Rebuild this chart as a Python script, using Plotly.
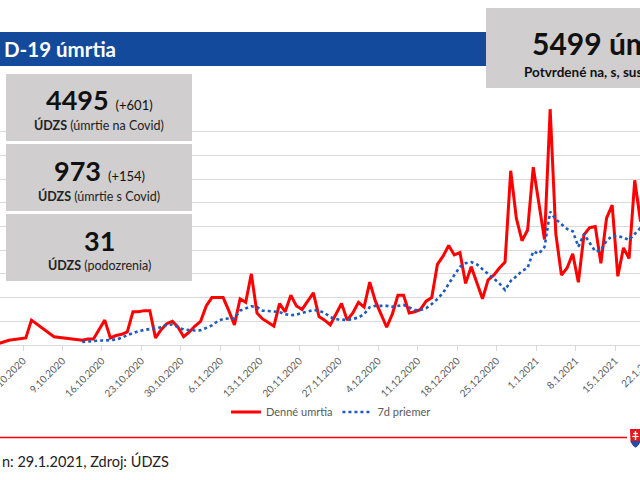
import plotly.graph_objects as go
import pandas as pd

# ---------------- data ----------------
early_dates = ["2020-09-27", "2020-09-29", "2020-10-02", "2020-10-03", "2020-10-07"]
early_deaths = [1, 4, 6, 21, 7]

daily_start = "2020-10-12"
daily_deaths = [4, 5, 5, 13, 21, 6, 8, 9, 11, 28, 28, 29, 29, 6, 13, 18, 20, 15, 7, 11,
                16, 20, 33, 40, 40, 40, 29, 17, 39, 36, 60, 27, 22, 19, 16, 35, 28, 42, 33, 30,
                37, 44, 24, 21, 17, 26, 35, 21, 27, 36, 32, 53, 37, 26, 15, 26, 42, 42, 27, 28,
                30, 37, 40, 68, 75, 84, 76, 78, 52, 66, 53, 39, 55, 59, 65, 70, 147, 107, 88, 97,
                150, 121, 89, 199, 94, 59, 65, 77, 53, 93, 99, 100, 69, 107, 118, 58, 82, 73, 139, 105,
                100]
avg7 = [2.5, 3, 3.4, 3.8, 3.8, 4, 4.6, 6, 8.4, 9.9, 11.8, 12.7, 13.5, 14, 15, 17, 17.3, 15, 13, 12.7,
        12.2, 12.4, 14.3, 16.5, 20, 22, 22.4, 22.4, 29, 31, 32.7, 32, 29, 28.7, 28.3, 27.8, 26, 25, 25.7, 27,
        28.3, 29.5, 29, 27, 23.6, 21.7, 21.5, 21, 22, 23.2, 26, 32, 33, 33.3, 33, 32.3, 33, 33.8, 31.6, 29.5,
        29.5, 31, 34.6, 38.8, 44, 52, 59, 66, 69, 70, 68, 64, 60, 56.5, 52, 46.4, 54, 58, 62.4, 65,
        79, 77, 82.7, 112.5, 106, 102, 98, 96, 83, 93.7, 86, 79, 80, 88, 92, 92, 90.7, 88.6, 93.7, 98.7,
        101]

tick_start = "2020-10-02"
last_tick_label = "22.1.2021"
title_text = "D-19 úmrtia"
total_text = "5499 úmrtí"
total_sub = "Potvrdené na, s, susp. (ÚDZS)"
box_numbers = ["4495", "973", "31"]
box_deltas = ["(+601)", "(+154)", ""]
box_labels = ["(úmrtie na Covid)", "(úmrtie s Covid)", "(podozrenia)"]
footer_text = "n: 29.1.2021, Zdroj: ÚDZS"
series_names = ["Denné umrtia", "7d priemer"]

# ---------------- helpers ----------------
W, H = 640, 480
TOP, BOT = 108, 345
FONT = "Lato"


def px(x):
    return x / W


def py(y):
    return (BOT - y) / (BOT - TOP)


offset = pd.Timedelta(hours=12)
daily_dates = pd.date_range(daily_start, periods=len(daily_deaths), freq="D")
red_x = list(pd.to_datetime(early_dates) + offset) + list(daily_dates + offset)
red_y = early_deaths + daily_deaths
blue_x = list(daily_dates[:len(avg7)] + offset)

fig = go.Figure()
fig.add_trace(go.Scatter(x=red_x, y=red_y, mode="lines", name=series_names[0],
                         line=dict(color="#FF0000", width=3)))
fig.add_trace(go.Scatter(x=blue_x, y=avg7, mode="lines", name=series_names[1],
                         line=dict(color="#1E5BBF", width=2.6, dash="dot")))

t0 = pd.Timestamp(tick_start)
pxday = 592 / 105.0
x_start = t0 - pd.Timedelta(days=23 / pxday)
x_end = t0 + pd.Timedelta(days=(640 - 23) / pxday)

shapes = []
# title band
shapes.append(dict(type="rect", xref="paper", yref="paper", x0=px(0), x1=px(487), y0=py(66), y1=py(32),
                   fillcolor="#134A9C", line=dict(width=0), layer="above"))
# right total box
shapes.append(dict(type="rect", xref="paper", yref="paper", x0=px(486), x1=px(700), y0=py(88), y1=py(8),
                   fillcolor="#D0CECE", line=dict(width=0), layer="above"))
# left boxes
box_tops = [74, 144, 214]
for bt in box_tops:
    shapes.append(dict(type="rect", xref="paper", yref="paper", x0=px(6), x1=px(192), y0=py(bt + 67), y1=py(bt),
                       fillcolor="#D0CECE", line=dict(width=0), layer="above"))
# footer red line
shapes.append(dict(type="line", xref="paper", yref="paper", x0=px(0), x1=px(627), y0=py(437.5), y1=py(437.5),
                   line=dict(color="#FF0000", width=1.5), layer="above"))


def path(points, close=True):
    s = "M " + " L ".join(f"{px(a):.5f},{py(b):.5f}" for a, b in points)
    return s + (" Z" if close else "")


# coat of arms
shapes.append(dict(type="path", xref="paper", yref="paper",
                   path=path([(630, 429), (641, 429), (641, 441), (638, 445.5), (635.5, 447.5), (633, 445.5), (630.5, 442)]),
                   fillcolor="#E6151B", line=dict(width=0), layer="above"))
shapes.append(dict(type="path", xref="paper", yref="paper",
                   path=path([(630.7, 441), (641, 441), (638, 445.5), (635.5, 447.5), (633, 445.5)]),
                   fillcolor="#1F4FA6", line=dict(width=0), layer="above"))
shapes.append(dict(type="line", xref="paper", yref="paper", x0=px(635.5), x1=px(635.5), y0=py(440), y1=py(431),
                   line=dict(color="white", width=1.4), layer="above"))
for yy, half in [(433.5, 2.4), (436.5, 3.2)]:
    shapes.append(dict(type="line", xref="paper", yref="paper", x0=px(635.5 - half), x1=px(635.5 + half),
                       y0=py(yy), y1=py(yy), line=dict(color="white", width=1.2), layer="above"))

ann = []
ann.append(dict(text=f"<b>{title_text}</b>", x=px(2), y=py(49), xanchor="left", yanchor="middle",
                font=dict(family=FONT, size=20.5, color="white")))
ann.append(dict(text=f"<b>{total_text}</b>", x=px(530), y=py(43), xanchor="left", yanchor="middle",
                font=dict(family=FONT, size=30, color="#111111")))
ann.append(dict(text=f"<b>{total_sub}</b>", x=px(522), y=py(72), xanchor="left", yanchor="middle",
                font=dict(family=FONT, size=13.5, color="#111111")))
num_y = [99, 170, 240]
lab_y = [125, 196, 265]
for num, delta, lab, ny, ly in zip(box_numbers, box_deltas, box_labels, num_y, lab_y):
    txt = f"<b>{num}</b>"
    if delta:
        txt += f" <span style='font-size:13px'>{delta}</span>"
    ann.append(dict(text=txt, x=px(99), y=py(ny), xanchor="center", yanchor="middle",
                    font=dict(family=FONT, size=27, color="#111111")))
    ann.append(dict(text=f"<b>ÚDZS</b> {lab}", x=px(99), y=py(ly), xanchor="center", yanchor="middle",
                    font=dict(family=FONT, size=12.5, color="#222222")))
ann.append(dict(text=footer_text, x=px(0), y=py(461), xanchor="left", yanchor="middle",
                font=dict(family=FONT, size=14.5, color="#222222")))
# the next weekly tick label lies just past the right edge; only its start shows
ann.append(dict(text=last_tick_label, x=px(639), y=py(369), xanchor="center", yanchor="middle",
                textangle=-45, font=dict(family=FONT, size=10, color="#595959")))
for a in ann:
    a.update(xref="paper", yref="paper", showarrow=False)

fig.update_layout(
    template="none",
    width=W, height=H,
    margin=dict(l=0, r=0, t=TOP, b=H - BOT, pad=0, autoexpand=False),
    paper_bgcolor="white", plot_bgcolor="white",
    font=dict(family=FONT, color="#595959"),
    showlegend=True,
    legend=dict(orientation="h", x=px(226), y=py(412), xanchor="left", yanchor="middle",
                font=dict(family=FONT, size=11, color="#595959"), bgcolor="rgba(0,0,0,0)",
                itemwidth=30, tracegroupgap=0),
    shapes=shapes,
    annotations=ann,
    xaxis=dict(type="date", range=[x_start, x_end], tick0=t0, dtick=7 * 86400000,
               tickformat="%-d.%-m.%Y", tickangle=-45, tickfont=dict(family=FONT, size=10, color="#595959"),
               ticklabeloverflow="allow",
               showgrid=False, showline=True, linecolor="#D9D9D9", linewidth=1.3,
               ticks="outside", ticklen=5, tickcolor="#D9D9D9", zeroline=False, automargin=False),
    yaxis=dict(range=[0, 200], dtick=20, showticklabels=False, showgrid=True, gridcolor="#D9D9D9",
               gridwidth=1.3, zeroline=False, showline=False, ticks="", automargin=False),
)

fig.write_html("out.html")
